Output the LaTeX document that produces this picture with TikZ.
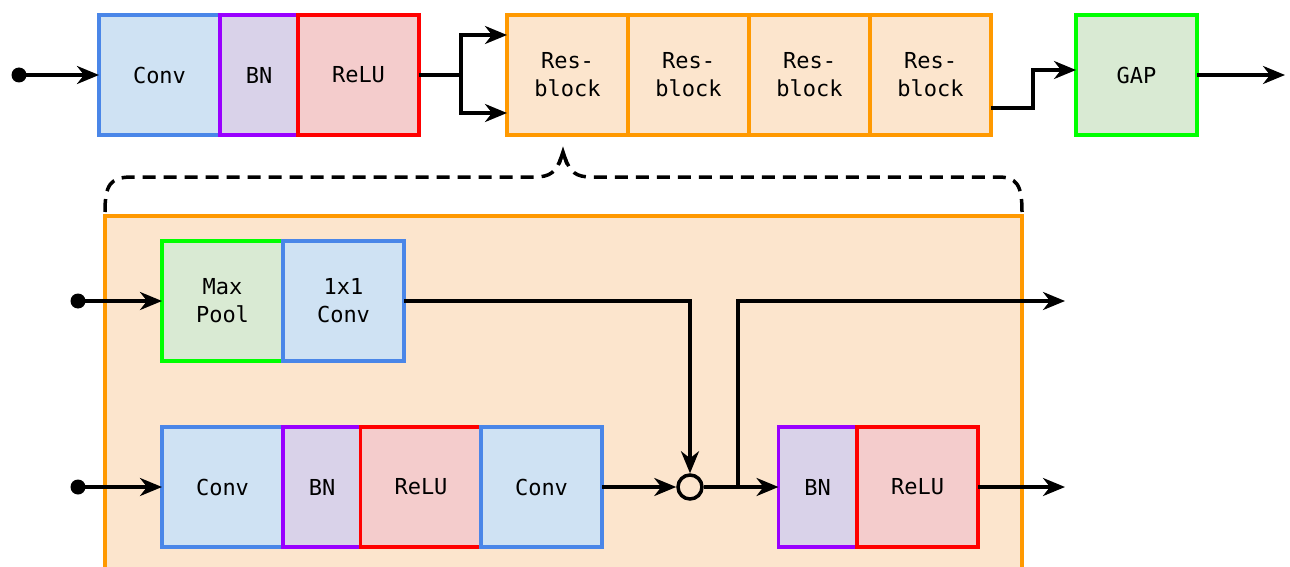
\documentclass[tikz,border=0pt]{standalone}
\usepackage{fontspec}
\setmainfont{DejaVu Sans Mono}
\usetikzlibrary{arrows.meta}
\definecolor{convF}{HTML}{CFE2F3}\definecolor{convD}{HTML}{4A86E8}
\definecolor{bnF}{HTML}{D9D2E9}\definecolor{bnD}{HTML}{9900FF}
\definecolor{reluF}{HTML}{F4CCCC}\definecolor{reluD}{HTML}{FF0000}
\definecolor{gapF}{HTML}{D9EAD3}\definecolor{gapD}{HTML}{00FF00}
\definecolor{resF}{HTML}{FCE5CD}\definecolor{resD}{HTML}{FF9900}
\tikzset{
  blk/.style={draw, line width=3.5pt, inner sep=0pt, outer sep=0pt, minimum height=120pt, align=center,
    font=\fontsize{22}{28}\selectfont},
  convb/.style={blk, fill=convF, draw=convD, minimum width=121pt},
  bnb/.style={blk, fill=bnF, draw=bnD, minimum width=78pt},
  relub/.style={blk, fill=reluF, draw=reluD, minimum width=121pt},
  gapb/.style={blk, fill=gapF, draw=gapD, minimum width=121pt},
  resb/.style={blk, fill=resF, draw=resD, minimum width=121pt},
  dotb/.style={circle, fill=black, minimum size=15pt, inner sep=0pt},
  sumb/.style={circle, draw, line width=3.5pt, minimum size=24pt, inner sep=0pt},
  arr/.style={line width=3.5pt, -{Stealth[length=22pt,width=18pt,inset=7pt]}},
  ln/.style={line width=3.5pt},
}
\begin{document}
\begin{tikzpicture}[x=1pt,y=-1pt]
\useasboundingbox (0,0) rectangle (1290,567);
% big resblock detail box
\draw[resD, fill=resF, line width=3.5pt] (105,216) rectangle (1022,600);
% brace
\draw[line width=3.5pt, dash pattern=on 13pt off 8pt]
  (105,212) .. controls (105,185) and (110,177) .. (132,177) -- (535,177)
  .. controls (550,177) and (556,172) .. (561,158);
\draw[line width=3.5pt, line join=miter] (559,164) -- (563,152) -- (567,164);
\draw[line width=3.5pt, dash pattern=on 13pt off 8pt]
  (1022,212) .. controls (1022,185) and (1017,177) .. (998,177) -- (591,177)
  .. controls (576,177) and (570,172) .. (565,158);
% top row
\node[dotb] (in0) at (19,75) {};
\node[convb] (conv0) at (159.5,75) {Conv};
\node[bnb] (bn0) at (259,75) {BN};
\node[relub] (relu0) at (358.5,75) {ReLU};
\node[resb] (res1) at (567.5,75) {Res-\\block};
\node[resb] (res2) at (688.5,75) {Res-\\block};
\node[resb] (res3) at (809.5,75) {Res-\\block};
\node[resb] (res4) at (930.5,75) {Res-\\block};
\node[gapb] (gap) at (1136.5,75) {GAP};
\coordinate (o0) at (1285,75);
\coordinate (br) at (461,75);
\coordinate (br2) at (1033,108);
\draw[arr] (in0.center) -- (conv0.west);
\draw[ln] (relu0.east) -- (br);
\draw[arr] (br) |- ([yshift=40pt]res1.west);
\draw[arr] (br) |- ([yshift=-38pt]res1.west);
\draw[arr] ([yshift=-33pt]res4.east) -- (br2) |- ([yshift=5pt]gap.west);
\draw[arr] (gap.east) -- (o0);
% inner top row
\node[dotb] (in1) at (78,301) {};
\node[gapb] (mp) at (222.5,301) {Max\\Pool};
\node[convb] (c11) at (343.5,301) {1x1\\Conv};
% inner bottom row
\node[dotb] (in2) at (78,487) {};
\node[convb] (conv1) at (222.5,487) {Conv};
\node[bnb] (bn1) at (322,487) {BN};
\node[relub] (relu1) at (421,487) {ReLU};
\node[convb] (conv2) at (541.5,487) {Conv};
\node[sumb] (sum) at (690,487) {};
\node[bnb] (bn2) at (817.5,487) {BN};
\node[relub] (relu2) at (917.5,487) {ReLU};
\coordinate (j) at (738,487);
\coordinate (o1) at (1065,301);
\coordinate (o2) at (1065,487);
\draw[arr] (in1.center) -- (mp.west);
\draw[arr] (in2.center) -- (conv1.west);
\draw[arr] (c11.east) -| (sum.north);
\draw[arr] (conv2.east) -- (sum.west);
\draw[ln] (sum.east) -- (j);
\draw[arr] (j) -- (bn2.west);
\draw[arr] (j) |- (o1);
\draw[arr] (relu2.east) -- (o2);
\end{tikzpicture}
\end{document}
